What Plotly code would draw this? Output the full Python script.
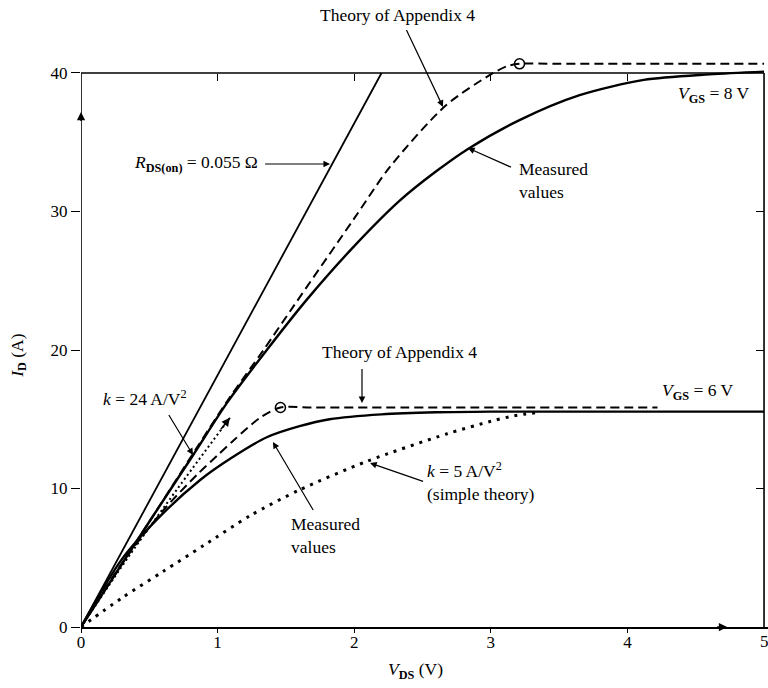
import plotly.graph_objects as go

# ---------------- data ----------------
rds_x = [0, 2.2]
rds_y = [0, 40]

meas8_x = [0, 0.5, 0.82, 1.07, 1.36, 1.65, 2.0, 2.335, 2.6, 2.83, 3.21, 3.65, 4.12, 4.6, 5.0]
meas8_y = [0, 7.6, 12.4, 16.2, 20.0, 23.6, 27.5, 30.8, 32.9, 34.5, 36.6, 38.4, 39.5, 39.9, 40.1]

theory8_x = [0, 0.5, 1.07, 1.336, 1.555, 2.0, 2.26, 2.67, 3.0, 3.12, 3.21, 3.5, 5.0]
theory8_y = [0, 7.6, 16.3, 20.0, 23.15, 29.5, 33.2, 37.65, 39.9, 40.5, 40.66, 40.66, 40.66]

meas6_x = [0, 0.3, 0.6, 0.87, 1.1, 1.36, 1.6, 1.82, 2.2, 2.6, 3.0, 3.5, 5.0]
meas6_y = [0, 4.9, 8.2, 10.6, 12.2, 13.7, 14.5, 15.0, 15.35, 15.5, 15.55, 15.55, 15.55]

theory6_x = [0, 0.3, 0.6, 0.85, 1.0, 1.12, 1.31, 1.46, 1.7, 4.22]
theory6_y = [0, 4.6, 8.4, 11.0, 12.4, 13.5, 15.1, 15.85, 15.85, 15.85]

k24_x = [0, 0.35, 0.7, 1.09]
k24_y = [0, 5.1, 9.9, 15.1]

k5_x = [0, 0.3, 0.6, 0.9, 1.24, 1.6, 2.09, 2.68, 3.0, 3.17, 3.35]
k5_y = [0, 2.1, 4.0, 5.9, 8.05, 9.9, 11.95, 13.95, 14.85, 15.25, 15.5]

sat_x = [3.21, 1.46]      # saturation points (open circles)
sat_y = [40.66, 15.85]

x_ticks = [0, 1, 2, 3, 4, 5]
y_ticks = [0, 10, 20, 30, 40]

FONT = "Liberation Serif"
X_MAX = 5.029
Y_MAX = 45.27

fig = go.Figure()

def line(x, y, width, dash="solid", smooth=True):
    fig.add_trace(go.Scatter(x=x, y=y, mode="lines", showlegend=False, hoverinfo="skip",
                             line=dict(color="black", width=width, dash=dash,
                                       shape="spline" if smooth else "linear",
                                       smoothing=0.8)))

line(rds_x, rds_y, 1.8, smooth=False)
line(meas8_x, meas8_y, 2.4)
line(theory8_x, theory8_y, 2.0, "9px,5px")
line(meas6_x, meas6_y, 2.4)
line(theory6_x, theory6_y, 2.0, "9px,5px")
line(k24_x, k24_y, 2.0, "2px,3px")
line(k5_x, k5_y, 3.0, "3px,6px")

fig.add_trace(go.Scatter(x=sat_x, y=sat_y, mode="markers", showlegend=False, hoverinfo="skip",
                         marker=dict(symbol="circle-open", size=10, color="black",
                                     line=dict(width=1.5, color="black"))))

# dummy trace for the overlay axes (top and right ticks)
fig.add_trace(go.Scatter(x=[None], y=[None], xaxis="x2", yaxis="y2", showlegend=False,
                         hoverinfo="skip"))

# frame lines
frame = dict(type="line", xref="x", yref="y", line=dict(color="black", width=1.6))
fig.add_shape(**frame, x0=0, y0=0, x1=0, y1=40)
fig.add_shape(**frame, x0=0, y0=40, x1=5, y1=40)
fig.add_shape(**frame, x0=5, y0=0, x1=5, y1=40)

ann = []
tf = dict(family=FONT, size=17.5, color="black")

def text(x, y, s, xanchor="center", align="center", yref="y", xref="x", angle=0, font=tf):
    ann.append(dict(x=x, y=y, xref=xref, yref=yref, text=s, showarrow=False,
                    xanchor=xanchor, yanchor="middle", align=align, font=font,
                    textangle=angle))

def arrow(x, y, ax, ay, width=1.2):
    ann.append(dict(x=x, y=y, xref="x", yref="y", ax=ax, ay=ay, text=" ", showarrow=True,
                    arrowhead=2, arrowsize=1.1, arrowwidth=width, arrowcolor="black",
                    standoff=0, startstandoff=0, font=dict(size=2)))

text(2.32, 44.19, "Theory of Appendix 4")
arrow(2.65, 37.55, -38, -80)
text(1.31, 33.43, "<i>R</i><sub><b>DS(on)</b></sub> = 0.055 Ω", xanchor="right")
arrow(1.823, 33.43, -67, 0)
text(3.19, 32.27, "Measured<br>values", xanchor="left", align="left")
arrow(2.833, 34.58, 45, 20)
text(4.63, 38.48, "<i>V</i><sub><b>GS</b></sub> = 8 V")
text(1.75, 19.86, "Theory of Appendix 4", xanchor="left")
arrow(2.057, 16.17, 0, -37)
text(0.47, 16.5, "<i>k</i> = 24 A/V<sup>2</sup>")
arrow(0.82, 12.42, -26, -43)
arrow(1.09, 15.1, -11, 14, 1.5)
text(1.52, 6.64, "Measured<br>values", xanchor="left", align="left")
arrow(1.405, 13.36, 42, 71)
text(2.52, 10.54, "<i>k</i> = 5 A/V<sup>2</sup><br>(simple theory)", xanchor="left", align="left")
arrow(2.116, 11.84, 55, 19)
text(4.24, 16.97, "<i>V</i><sub><b>GS</b></sub> = 6 V", xanchor="left")

# axis arrows
arrow(4.73, 0, -12, 0, 1.5)
arrow(0, 37.18, 0, 12, 1.5)

# tick label "5" at the right edge (cut by the page edge as in the reference)
text(x_ticks[-1], -0.023, str(x_ticks[-1]), yref="paper",
     font=dict(family=FONT, size=17, color="black"))

# axis titles
text(2.45, -0.07, "<i>V</i><sub><b>DS</b></sub> (V)", yref="paper")
ann.append(dict(x=-0.092, y=(688 - 61 - 355) / 627, xref="paper", yref="paper",
                text="<i>I</i><sub><b>D</b></sub> (A)", showarrow=False, textangle=-90,
                xanchor="center", yanchor="middle", font=tf))

fig.update_layout(
    width=768, height=688,
    margin=dict(l=81, r=0, t=0, b=61),
    paper_bgcolor="white", plot_bgcolor="white",
    annotations=ann,
    xaxis=dict(range=[0, X_MAX], tickvals=x_ticks[:-1], ticktext=[str(v) for v in x_ticks[:-1]],
               showgrid=False, zeroline=False, showline=True, linecolor="black", linewidth=2,
               ticks="outside", ticklen=4, tickcolor="black", tickwidth=1.2,
               ticklabelstandoff=-5,
               tickfont=dict(family=FONT, size=17, color="black")),
    yaxis=dict(range=[0, Y_MAX], tickvals=y_ticks, ticktext=[str(v) for v in y_ticks],
               showgrid=False, zeroline=False, showline=False,
               ticks="outside", ticklen=9, tickcolor="black", tickwidth=1.2,
               tickfont=dict(family=FONT, size=17, color="black")),
    xaxis2=dict(range=[0, X_MAX], overlaying="x", anchor="free", position=40 / Y_MAX,
                side="top", tickvals=[1, 2, 3, 4], ticks="inside", ticklen=7,
                tickcolor="black", tickwidth=1.2, showticklabels=False,
                showgrid=False, zeroline=False, showline=False),
    yaxis2=dict(range=[0, Y_MAX], overlaying="y", anchor="free", position=5 / X_MAX,
                side="right", tickvals=[10, 20, 30], ticks="inside", ticklen=8,
                tickcolor="black", tickwidth=1.2, showticklabels=False,
                showgrid=False, zeroline=False, showline=False),
)

fig.write_html("out.html", config={"displayModeBar": False},
               post_script="document.body.style.margin='0px';document.body.style.overflow='hidden';")
